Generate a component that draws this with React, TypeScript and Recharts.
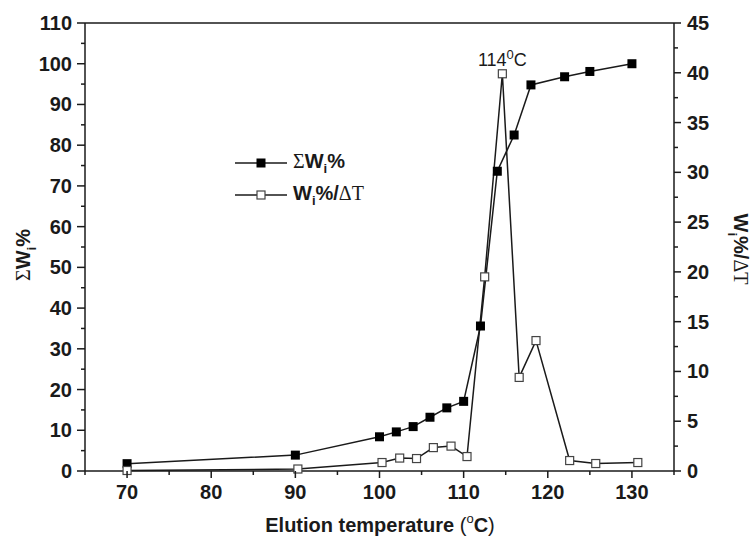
import { ComposedChart, Line, XAxis, YAxis, ReferenceLine, LabelList, Label } from "recharts";

// cumulative weight fraction (left axis)
const cumTemps = [70, 90, 100, 102, 104, 106, 108, 110, 112, 114, 116, 118, 122, 125, 130];
const cumValues = [1.8, 3.9, 8.4, 9.6, 10.9, 13.2, 15.5, 17.1, 35.6, 73.6, 82.5, 94.8, 96.8, 98.1, 100];

// differential fraction per degree (right axis)
const diffTemps = [70, 90.3, 100.3, 102.4, 104.4, 106.4, 108.5, 110.4, 112.5, 114.6, 116.6, 118.6, 122.6, 125.7, 130.7];
const diffValues = [0.05, 0.2, 0.85, 1.3, 1.25, 2.35, 2.5, 1.45, 19.5, 39.9, 9.4, 13.1, 1.05, 0.75, 0.85];

const xTicks = [65, 70, 75, 80, 85, 90, 95, 100, 105, 110, 115, 120, 125, 130, 135];
const leftTicks = [0, 5, 10, 15, 20, 25, 30, 35, 40, 45, 50, 55, 60, 65, 70, 75, 80, 85, 90, 95, 100, 105, 110];
const rightTicks = [0, 2.5, 5, 7.5, 10, 12.5, 15, 17.5, 20, 22.5, 25, 27.5, 30, 32.5, 35, 37.5, 40, 42.5, 45];

const cumData = cumTemps.map((t, i) => ({ t, v: cumValues[i] }));
const diffData = diffTemps.map((t, i) => ({ t, v: diffValues[i] }));
const peak = Math.max(...diffValues);

const SANS = "'Liberation Sans', Arial, sans-serif";
const SERIF = "'Liberation Serif', 'Times New Roman', serif";
const INK = "#1a1a1a";

const XTick = ({ x, y, payload }: any) => {
  const major = payload.value % 10 === 0;
  return (
    <g>
      <line x1={x} x2={x} y1={y} y2={y + (major ? 7 : 4)} stroke={INK} strokeWidth={1.5} />
      {major && (
        <text x={x} y={y + 28} textAnchor="middle" fontFamily={SANS} fontWeight="bold" fontSize={20} fill={INK}>
          {payload.value}
        </text>
      )}
    </g>
  );
};

const LeftTick = ({ x, y, payload }: any) => {
  const major = payload.value % 10 === 0;
  return (
    <g>
      <line x1={x} x2={x - (major ? 8 : 4)} y1={y} y2={y} stroke={INK} strokeWidth={1.5} />
      {major && (
        <text x={x - 13} y={y + 7} textAnchor="end" fontFamily={SANS} fontWeight="bold" fontSize={20} fill={INK}>
          {payload.value}
        </text>
      )}
    </g>
  );
};

const RightTick = ({ x, y, payload }: any) => {
  const major = payload.value % 5 === 0;
  return (
    <g>
      <line x1={x} x2={x + (major ? 7 : 4)} y1={y} y2={y} stroke={INK} strokeWidth={1.5} />
      {major && (
        <text x={x + 13} y={y + 7} textAnchor="start" fontFamily={SANS} fontWeight="bold" fontSize={20} fill={INK}>
          {payload.value}
        </text>
      )}
    </g>
  );
};

const FilledSquare = ({ cx, cy }: any) => <rect x={cx - 4.5} y={cy - 4.5} width={9} height={9} fill="#000" />;
const OpenSquare = ({ cx, cy }: any) => (
  <rect x={cx - 4} y={cy - 4} width={8} height={8} fill="#fff" stroke="#444" strokeWidth={1.2} />
);

const PeakLabel = ({ x, y, value }: any) => {
  if (value !== peak) return null;
  return (
    <text x={x} y={y - 8} textAnchor="middle" fontFamily={SANS} fontSize={18} fill={INK}>
      114
      <tspan fontSize={13} dy={-7}>0</tspan>
      <tspan dy={7}>C</tspan>
    </text>
  );
};

const LeftTitle = () => (
  <text transform="translate(30,255) rotate(-90)" textAnchor="middle" fontFamily={SANS} fontWeight="bold" fontSize={20} fill={INK}>
    <tspan fontFamily={SERIF} fontWeight="normal">Σ</tspan>
    <tspan>W</tspan>
    <tspan fontSize={13} dy={6}>i</tspan>
    <tspan dy={-6}>%</tspan>
  </text>
);

const RightTitle = () => (
  <text transform="translate(734,249) rotate(90)" textAnchor="middle" fontFamily={SANS} fontWeight="bold" fontSize={20} fill={INK}>
    <tspan>W</tspan>
    <tspan fontSize={13} dy={6}>i</tspan>
    <tspan dy={-6}>%/</tspan>
    <tspan fontFamily={SERIF} fontWeight="normal">ΔT</tspan>
  </text>
);

const XTitle = () => (
  <text x={380} y={532} textAnchor="middle" fontFamily={SANS} fontWeight="bold" fontSize={20} fill={INK}>
    Elution temperature <tspan fontWeight="normal">(</tspan>
    <tspan fontSize={13} fontWeight="normal" dy={-9}>o</tspan>
    <tspan dy={9}>C</tspan>
    <tspan fontWeight="normal">)</tspan>
  </text>
);

const LegendBox = () => {
  const row = (filled: boolean, label: any) => (
    <div style={{ display: "flex", alignItems: "center", height: 32 }}>
      <svg width={56} height={20}>
        <line x1={2} x2={54} y1={10} y2={10} stroke={INK} strokeWidth={1.5} />
        {filled ? (
          <rect x={23.5} y={5.5} width={9} height={9} fill="#000" />
        ) : (
          <rect x={24} y={6} width={8} height={8} fill="#fff" stroke="#444" strokeWidth={1.2} />
        )}
      </svg>
      <span style={{ marginLeft: 4, fontFamily: SANS, fontWeight: "bold", fontSize: 20, color: INK }}>{label}</span>
    </div>
  );
  return (
    <div style={{ position: "absolute", left: 233, top: 147 }}>
      {row(
        true,
        <>
          <span style={{ fontFamily: SERIF, fontWeight: "normal" }}>Σ</span>W<sub style={{ fontSize: 13 }}>i</sub>%
        </>
      )}
      {row(
        false,
        <>
          W<sub style={{ fontSize: 13 }}>i</sub>%/<span style={{ fontFamily: SERIF, fontWeight: "normal" }}>ΔT</span>
        </>
      )}
    </div>
  );
};

export default function App() {
  return (
    <div style={{ position: "fixed", left: 0, top: 0, width: 752, height: 542, background: "#fff" }}>
      <ComposedChart width={752} height={542} margin={{ top: 23, right: 0, left: 0, bottom: 0 }}>
        <XAxis
          dataKey="t"
          type="number"
          domain={[65, 135]}
          ticks={xTicks}
          interval={0}
          allowDataOverflow
          height={71}
          tickSize={0}
          tickMargin={0}
          tick={<XTick />}
          axisLine={{ stroke: INK, strokeWidth: 1.5 }}
          tickLine={false}
        >
          <Label content={<XTitle />} />
        </XAxis>
        <YAxis
          yAxisId="left"
          type="number"
          domain={[0, 110]}
          ticks={leftTicks}
          interval={0}
          width={85}
          tickSize={0}
          tickMargin={0}
          tick={<LeftTick />}
          axisLine={{ stroke: INK, strokeWidth: 1.5 }}
          tickLine={false}
        >
          <Label content={<LeftTitle />} />
        </YAxis>
        <YAxis
          yAxisId="right"
          orientation="right"
          type="number"
          domain={[0, 45]}
          ticks={rightTicks}
          interval={0}
          width={78}
          tickSize={0}
          tickMargin={0}
          tick={<RightTick />}
          axisLine={{ stroke: INK, strokeWidth: 1.5 }}
          tickLine={false}
        >
          <Label content={<RightTitle />} />
        </YAxis>
        <ReferenceLine yAxisId="left" y={110} stroke={INK} strokeWidth={1.5} />
        <Line
          yAxisId="left"
          data={cumData}
          dataKey="v"
          name="ΣWi%"
          type="linear"
          stroke={INK}
          strokeWidth={1.5}
          dot={<FilledSquare />}
          activeDot={false}
          isAnimationActive={false}
        />
        <Line
          yAxisId="right"
          data={diffData}
          dataKey="v"
          name="Wi%/ΔT"
          type="linear"
          stroke={INK}
          strokeWidth={1.5}
          dot={<OpenSquare />}
          activeDot={false}
          isAnimationActive={false}
        >
          <LabelList dataKey="v" content={<PeakLabel />} />
        </Line>
      </ComposedChart>
      <LegendBox />
    </div>
  );
}
